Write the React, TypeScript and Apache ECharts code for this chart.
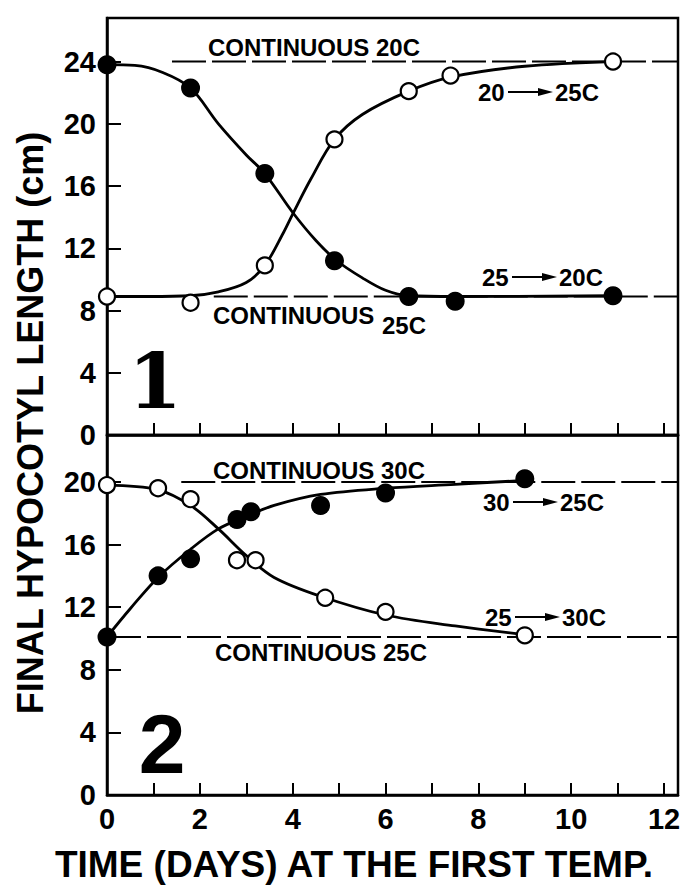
import React, { useEffect, useRef } from "react";
import * as echarts from "echarts";

// ---------- Data ----------
// Panel 1 : 25 -> 20C (filled) and 20 -> 25C (open)
const p1FilledX = [0, 1.8, 3.4, 4.9, 6.5, 7.5, 10.9];
const p1FilledY = [23.8, 22.3, 16.8, 11.2, 8.9, 8.6, 8.95];
const p1OpenX = [0, 1.8, 3.4, 4.9, 6.5, 7.4, 10.9];
const p1OpenY = [8.9, 8.5, 10.9, 19.0, 22.1, 23.1, 24.0];
// hand-drawn curves of panel 1
const p1FilledCurveX = [0, 0.6, 1.2, 1.8, 2.4, 3.0, 3.4, 4.0, 4.5, 4.95, 5.5, 6.0, 6.5, 7.5, 10.9];
const p1FilledCurveY = [23.8, 23.75, 23.3, 22.3, 20.0, 18.0, 16.8, 14.3, 12.5, 11.2, 10.1, 9.3, 8.95, 8.9, 8.95];
const p1OpenCurveX = [0, 0.9, 1.8, 2.4, 3.0, 3.4, 3.8, 4.0, 4.4, 4.9, 5.5, 6.5, 7.4, 9.0, 10.9];
const p1OpenCurveY = [8.9, 8.9, 8.95, 9.2, 9.8, 10.9, 13.0, 14.2, 16.5, 19.0, 20.6, 22.1, 23.0, 23.7, 24.0];
// continuous reference levels, panel 1
const p1Cont20X = [1.4, 12.3];
const p1Cont20Y = [24, 24];
const p1Cont25X = [2.3, 12.3];
const p1Cont25Y = [8.9, 8.9];

// Panel 2 : 30 -> 25C (filled) and 25 -> 30C (open)
const p2FilledX = [0, 1.1, 1.8, 2.8, 3.1, 4.6, 6.0, 9.0];
const p2FilledY = [10.1, 14.0, 15.1, 17.6, 18.1, 18.5, 19.3, 20.2];
const p2OpenX = [0, 1.1, 1.8, 2.8, 3.2, 4.7, 6.0, 9.0];
const p2OpenY = [19.8, 19.6, 18.9, 15.0, 15.0, 12.6, 11.7, 10.2];
const p2FilledCurveX = [0, 0.5, 1.1, 1.8, 2.4, 3.0, 3.6, 4.6, 6.0, 7.5, 9.0];
const p2FilledCurveY = [10.1, 11.9, 13.9, 15.7, 17.0, 17.8, 18.5, 19.2, 19.6, 19.85, 20.1];
const p2OpenCurveX = [0, 1.1, 1.8, 2.4, 3.0, 3.6, 4.6, 6.0, 7.5, 9.0];
const p2OpenCurveY = [19.8, 19.5, 18.5, 17.0, 15.3, 13.9, 12.7, 11.5, 10.8, 10.25];
const p2Cont30X = [1.6, 12.3];
const p2Cont30Y = [20, 20];
const p2Cont25X = [0, 12.3];
const p2Cont25Y = [10.1, 10.1];

// Axes
const xMin = 0;
const xMax = 12.3;
const xTickStep = 1;
const xLabelStep = 2;
const p1YMax = 26.8;
const p2YMax = 23.0;
const yStep = 4;

const yTitle = "FINAL HYPOCOTYL LENGTH (cm)";
const xTitle = "TIME (DAYS) AT THE FIRST TEMP.";

const zip = (xs: number[], ys: number[]) => xs.map((x, i) => [x, ys[i]]);

const LABEL_FONT = 'bold 24px "Liberation Sans", Arial, sans-serif';

function arrowLabel(x: number, y: number, left: string, right: string) {
  return {
    type: "group",
    children: [
      { type: "text", x, y, style: { text: left, font: LABEL_FONT, fill: "#000", align: "left", verticalAlign: "middle" } },
      { type: "line", shape: { x1: x + 30, y1: y, x2: x + 64, y2: y }, style: { stroke: "#000", lineWidth: 2 } },
      { type: "polygon", shape: { points: [[x + 60, y - 4], [x + 75, y], [x + 60, y + 4]] }, style: { fill: "#000" } },
      { type: "text", x: x + 77, y, style: { text: right, font: LABEL_FONT, fill: "#000", align: "left", verticalAlign: "middle" } },
    ],
  };
}

function plainText(x: number, y: number, text: string) {
  return { type: "text", x, y, style: { text, font: LABEL_FONT, fill: "#000", align: "left", verticalAlign: "middle" } };
}

export default function App() {
  const ref = useRef<HTMLDivElement>(null);
  useEffect(() => {
    if (!ref.current) return;
    const chart = echarts.init(ref.current, undefined, { renderer: "svg" });
    const tickFont = { fontFamily: '"Liberation Sans", Arial, sans-serif', fontWeight: "bold" as const, fontSize: 29, color: "#000" };

    const xAxisBase = (gridIndex: number, showLabels: boolean) => ({
      type: "value",
      gridIndex,
      min: xMin,
      max: xMax,
      interval: xTickStep,
      axisLine: { show: true, lineStyle: { color: "#000", width: 2.5 } },
      axisTick: { show: true, inside: true, length: 12, lineStyle: { color: "#000", width: 2 } },
      splitLine: { show: false },
      axisLabel: {
        show: showLabels,
        margin: 9,
        ...tickFont,
        formatter: (v: number) => (Number.isInteger(v) && v % xLabelStep === 0 ? String(v) : ""),
      },
    });
    const yAxisBase = (gridIndex: number, max: number) => ({
      type: "value",
      gridIndex,
      min: 0,
      max,
      interval: yStep,
      axisLine: { show: true, lineStyle: { color: "#000", width: 2.5 } },
      axisTick: { show: true, inside: true, length: 14, lineStyle: { color: "#000", width: 2 } },
      splitLine: { show: false },
      axisLabel: {
        margin: 11,
        ...tickFont,
        formatter: (v: number) => (Number.isInteger(v) && v % yStep === 0 ? String(v) : ""),
      },
    });

    const curve = (xi: number, xs: number[], ys: number[]) => ({
      type: "line",
      xAxisIndex: xi,
      yAxisIndex: xi,
      data: zip(xs, ys),
      smooth: 0.35,
      showSymbol: false,
      symbol: "none",
      lineStyle: { color: "#000", width: 2.8 },
      z: 2,
      silent: true,
    });
    const dashed = (xi: number, xs: number[], ys: number[]) => ({
      type: "line",
      xAxisIndex: xi,
      yAxisIndex: xi,
      data: zip(xs, ys),
      showSymbol: false,
      symbol: "none",
      lineStyle: { color: "#000", width: 2, type: [34, 6] },
      z: 1,
      silent: true,
    });
    const filled = (xi: number, xs: number[], ys: number[]) => ({
      type: "scatter",
      xAxisIndex: xi,
      yAxisIndex: xi,
      data: zip(xs, ys),
      symbol: "circle",
      symbolSize: 19,
      itemStyle: { color: "#000", opacity: 1 },
      z: 4,
    });
    const open = (xi: number, xs: number[], ys: number[]) => ({
      type: "scatter",
      xAxisIndex: xi,
      yAxisIndex: xi,
      data: zip(xs, ys),
      symbol: "circle",
      symbolSize: 16,
      itemStyle: { color: "#fff", borderColor: "#000", borderWidth: 2.2, opacity: 1 },
      z: 4,
    });

    chart.setOption({
      animation: false,
      backgroundColor: "#fff",
      grid: [
        { left: 107, top: 18, width: 571, height: 417, show: true, borderColor: "#000", borderWidth: 2.5, containLabel: false },
        { left: 107, top: 435, width: 571, height: 360, show: true, borderColor: "#000", borderWidth: 2.5, containLabel: false },
      ],
      xAxis: [xAxisBase(0, false), xAxisBase(1, true)],
      yAxis: [yAxisBase(0, p1YMax), yAxisBase(1, p2YMax)],
      series: [
        dashed(0, p1Cont20X, p1Cont20Y),
        dashed(0, p1Cont25X, p1Cont25Y),
        curve(0, p1FilledCurveX, p1FilledCurveY),
        curve(0, p1OpenCurveX, p1OpenCurveY),
        filled(0, p1FilledX, p1FilledY),
        open(0, p1OpenX, p1OpenY),
        dashed(1, p2Cont30X, p2Cont30Y),
        dashed(1, p2Cont25X, p2Cont25Y),
        curve(1, p2FilledCurveX, p2FilledCurveY),
        curve(1, p2OpenCurveX, p2OpenCurveY),
        filled(1, p2FilledX, p2FilledY),
        open(1, p2OpenX, p2OpenY),
      ],
      graphic: [
        {
          type: "text",
          x: 30,
          y: 423,
          rotation: Math.PI / 2,
          style: { text: yTitle, font: 'bold 36px "Liberation Sans", Arial, sans-serif', fill: "#000", align: "center", verticalAlign: "middle" },
        },
        {
          type: "text",
          x: 354,
          y: 864,
          style: { text: xTitle, font: 'bold 37px "Liberation Sans", Arial, sans-serif', fill: "#000", align: "center", verticalAlign: "middle" },
        },
        { type: "text", x: 155, y: 381, style: { text: "1", font: 'bold 77px "DejaVu Serif", serif', fill: "#000", align: "center", verticalAlign: "middle" } },
        { type: "text", x: 162, y: 744, style: { text: "2", font: 'bold 84px "Liberation Sans", Arial, sans-serif', fill: "#000", align: "center", verticalAlign: "middle" } },
        plainText(208, 47, "CONTINUOUS 20C"),
        plainText(213, 315, "CONTINUOUS"),
        plainText(382, 325, "25C"),
        plainText(213, 470, "CONTINUOUS 30C"),
        plainText(215, 652, "CONTINUOUS 25C"),
        arrowLabel(478, 92, "20", "25C"),
        arrowLabel(482, 277, "25", "20C"),
        arrowLabel(483, 502, "30", "25C"),
        arrowLabel(485, 617, "25", "30C"),
      ],
    });
    return () => chart.dispose();
  }, []);
  return <div ref={ref} style={{ position: "absolute", left: 0, top: 0, width: 685, height: 887 }} />;
}
